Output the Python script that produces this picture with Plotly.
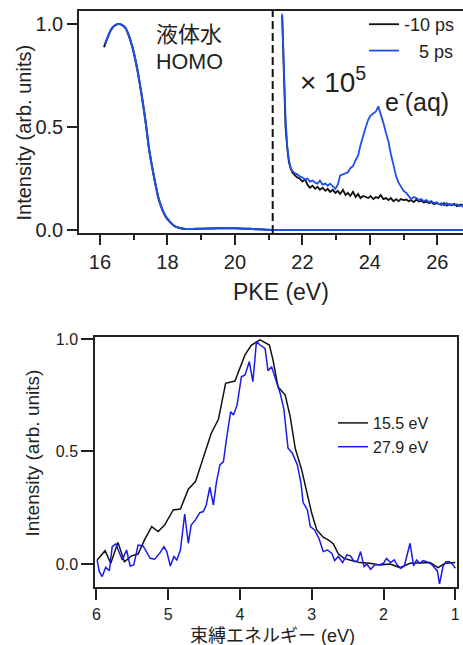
import plotly.graph_objects as go

# ---------------- top panel data ----------------
homo_pke_m10 = [16.12, 16.32, 16.42, 16.54, 16.66, 16.76, 16.96, 17.11, 17.26, 17.36, 17.45,
                17.60, 17.75, 17.95, 18.20, 18.54, 19.00, 19.50, 20.00, 20.60, 21.10, 22.00, 24.00, 26.80]
homo_int_m10 = [0.887, 0.97, 0.99, 1.0, 0.995, 0.98, 0.89, 0.777, 0.63, 0.518, 0.40,
                0.26, 0.146, 0.065, 0.02, 0.005, 0.006, 0.008, 0.009, 0.004, 0.0, 0.0, 0.0, 0.0]
homo_pke_5 = [16.14, 16.32, 16.42, 16.54, 16.66, 16.76, 16.96, 17.11, 17.26, 17.36, 17.45,
              17.60, 17.75, 17.95, 18.20, 18.54, 19.00, 19.50, 20.00, 20.60, 21.10, 22.00, 24.00, 26.80]
homo_int_5 = [0.90, 0.97, 0.99, 1.0, 0.995, 0.98, 0.89, 0.777, 0.63, 0.518, 0.40,
              0.26, 0.146, 0.065, 0.02, 0.005, 0.006, 0.008, 0.009, 0.004, 0.0, 0.0, 0.0, 0.0]

pke_x1e5 = [21.40, 21.45, 21.50, 21.55, 21.60, 21.65, 21.70, 21.78, 21.85, 21.92, 22.00, 22.08,
            22.15, 22.22, 22.30, 22.38, 22.45, 22.52, 22.60, 22.68, 22.75, 22.82, 22.90, 22.98,
            23.05, 23.12, 23.20, 23.28, 23.35, 23.42, 23.50, 23.58, 23.65, 23.72, 23.80, 23.88,
            23.95, 24.02, 24.10, 24.18, 24.25, 24.32, 24.40, 24.48, 24.55, 24.62, 24.70, 24.78,
            24.85, 24.92, 25.00, 25.08, 25.15, 25.22, 25.30, 25.38, 25.45, 25.52, 25.60, 25.68,
            25.75, 25.82, 25.90, 25.98, 26.05, 26.12, 26.20, 26.28, 26.35, 26.42, 26.50, 26.58,
            26.65, 26.72, 26.80]
int_m10_x1e5 = [1.04, 0.70, 0.50, 0.40, 0.33, 0.30, 0.28, 0.265, 0.255, 0.25, 0.235, 0.245,
                0.22, 0.205, 0.215, 0.20, 0.21, 0.195, 0.205, 0.19, 0.20, 0.185, 0.195, 0.18,
                0.19, 0.175, 0.195, 0.17, 0.18, 0.165, 0.185, 0.16, 0.175, 0.155, 0.165, 0.16,
                0.155, 0.165, 0.15, 0.16, 0.155, 0.17, 0.15, 0.155, 0.145, 0.155, 0.14, 0.15,
                0.14, 0.15, 0.145, 0.148, 0.14, 0.145, 0.135, 0.148, 0.138, 0.142, 0.133, 0.138,
                0.13, 0.136, 0.125, 0.13, 0.127, 0.122, 0.13, 0.118, 0.126, 0.12, 0.127, 0.116,
                0.121, 0.124, 0.112]
int_5_x1e5 = [1.05, 0.75, 0.55, 0.41, 0.34, 0.305, 0.285, 0.275, 0.27, 0.26, 0.255, 0.245,
              0.25, 0.235, 0.24, 0.23, 0.225, 0.24, 0.22, 0.225, 0.215, 0.225, 0.21, 0.20,
              0.22, 0.265, 0.27, 0.275, 0.28, 0.30, 0.31, 0.34, 0.36, 0.41, 0.46, 0.50,
              0.535, 0.555, 0.565, 0.575, 0.60, 0.565, 0.52, 0.47, 0.43, 0.37, 0.31, 0.26,
              0.23, 0.21, 0.19, 0.18, 0.165, 0.15, 0.16, 0.155, 0.145, 0.15, 0.14, 0.145,
              0.135, 0.14, 0.13, 0.135, 0.125, 0.13, 0.12, 0.13, 0.12, 0.125, 0.12, 0.125,
              0.115, 0.12, 0.105]
threshold_pke = 21.12

# ---------------- bottom panel data ----------------
be_155 = [5.99, 5.88, 5.80, 5.70, 5.61, 5.51, 5.42, 5.33, 5.23, 5.14, 5.05, 4.93, 4.83, 4.72,
          4.62, 4.51, 4.40, 4.30, 4.20, 4.07, 3.93, 3.84, 3.72, 3.59, 3.54, 3.47, 3.37, 3.30,
          3.23, 3.14, 3.07, 3.00, 2.93, 2.84, 2.77, 2.70, 2.63, 2.55, 2.47, 2.33, 2.19, 2.05,
          1.91, 1.77, 1.63, 1.49, 1.35, 1.24, 1.14, 1.00]
int_155 = [0.018, 0.059, 0.003, 0.096, 0.01, 0.036, 0.044, 0.107, 0.166, 0.144, 0.173, 0.24,
           0.244, 0.332, 0.366, 0.477, 0.581, 0.643, 0.803, 0.813, 0.929, 0.973, 0.996, 0.973,
           0.907, 0.788, 0.751, 0.655, 0.514, 0.418, 0.314, 0.225, 0.151, 0.119, 0.107, 0.09,
           0.045, 0.025, 0.018, 0.006, 0.003, -0.004, 0.0, -0.016, 0.003, 0.003, 0.006, -0.016,
           0.003, 0.006]
be_279 = [5.99, 5.96, 5.92, 5.87, 5.82, 5.78, 5.73, 5.68, 5.64, 5.58, 5.53, 5.48, 5.42, 5.35,
          5.30, 5.25, 5.19, 5.12, 5.06, 5.02, 4.97, 4.92, 4.88, 4.83, 4.77, 4.72, 4.68, 4.62,
          4.56, 4.51, 4.47, 4.42, 4.37, 4.33, 4.28, 4.23, 4.19, 4.13, 4.09, 4.04, 3.98, 3.93,
          3.87, 3.82, 3.77, 3.72, 3.65, 3.61, 3.56, 3.50, 3.44, 3.39, 3.33, 3.27, 3.20, 3.15,
          3.12, 3.06, 3.02, 2.96, 2.90, 2.84, 2.78, 2.72, 2.68, 2.63, 2.57, 2.51, 2.46, 2.41,
          2.36, 2.32, 2.27, 2.23, 2.18, 2.12, 2.06, 2.00, 1.96, 1.90, 1.85, 1.81, 1.76, 1.71,
          1.67, 1.63, 1.58, 1.54, 1.49, 1.45, 1.40, 1.35, 1.31, 1.25, 1.22, 1.17, 1.13, 1.08,
          1.03, 1.00]
int_279 = [0.018, -0.034, -0.056, -0.015, -0.03, 0.077, 0.089, 0.047, 0.018, 0.062, -0.009,
           -0.004, 0.084, 0.08, 0.055, 0.025, 0.021, 0.047, 0.077, 0.055, -0.009, 0.033, 0.018,
           0.062, 0.222, 0.092, 0.173, 0.196, 0.228, 0.233, 0.262, 0.341, 0.262, 0.359, 0.44,
           0.455, 0.551, 0.677, 0.662, 0.707, 0.832, 0.84, 0.899, 0.81, 0.988, 0.973, 0.958,
           0.859, 0.877, 0.818, 0.759, 0.692, 0.514, 0.492, 0.44, 0.359, 0.273, 0.24, 0.166,
           0.151, 0.114, 0.055, 0.062, 0.047, 0.015, 0.033, 0.006, 0.04, 0.036, 0.01, 0.015,
           0.055, -0.012, 0.0, -0.024, -0.004, -0.004, 0.003, 0.025, 0.006, 0.018, -0.004,
           -0.019, -0.009, 0.04, 0.092, -0.009, 0.018, 0.003, 0.015, 0.01, 0.003, -0.009,
           -0.031, -0.089, -0.009, 0.01, 0.01, -0.004, -0.019]

top_y_ticks = [0, 0.5, 1.0]
top_x_ticks = [16, 18, 20, 22, 24, 26]
bot_x_ticks = [6, 5, 4, 3, 2, 1]

W, H = 463, 645
BLACK = "#111111"
BLUE_TOP = "#1f50e8"
BLUE_BOT = "#1a1ae8"
AX = "#222222"
LAT = "Liberation Sans, Arial, Noto Sans CJK JP, sans-serif"

def px(x):
    return x / W

def py(y):
    return 1 - y / H

fig = go.Figure()

# top panel
fig.add_trace(go.Scatter(x=homo_pke_m10, y=homo_int_m10, mode="lines", line=dict(color=BLACK, width=2, shape="spline", smoothing=0.6),
                         xaxis="x", yaxis="y", showlegend=False, hoverinfo="skip"))
fig.add_trace(go.Scatter(x=homo_pke_5, y=homo_int_5, mode="lines", line=dict(color=BLUE_TOP, width=2, shape="spline", smoothing=0.6),
                         xaxis="x", yaxis="y", showlegend=False, hoverinfo="skip"))
fig.add_trace(go.Scatter(x=pke_x1e5, y=int_m10_x1e5, mode="lines", name="-10 ps", line=dict(color=BLACK, width=1.8),
                         xaxis="x", yaxis="y", legend="legend"))
fig.add_trace(go.Scatter(x=pke_x1e5, y=int_5_x1e5, mode="lines", name="\u00a0\u00a0\u00a05 ps", line=dict(color=BLUE_TOP, width=1.8),
                         xaxis="x", yaxis="y", legend="legend"))

# bottom panel
fig.add_trace(go.Scatter(x=be_155, y=int_155, mode="lines", name="15.5 eV", line=dict(color=BLACK, width=1.5),
                         xaxis="x2", yaxis="y2", legend="legend2"))
fig.add_trace(go.Scatter(x=be_279, y=int_279, mode="lines", name="27.9 eV", line=dict(color=BLUE_BOT, width=1.5),
                         xaxis="x2", yaxis="y2", legend="legend2"))

fig.add_shape(type="line", xref="x", yref="y domain", x0=threshold_pke, x1=threshold_pke, y0=0, y1=1,
              line=dict(color=BLACK, width=2, dash="8px,4px"))

axis_common = dict(showline=True, linecolor=AX, linewidth=1.5, showgrid=False, zeroline=False,
                   ticks="outside", tickcolor=AX, tickwidth=1.5, automargin=False)

fig.update_layout(
    width=W, height=H, margin=dict(l=0, r=0, t=0, b=0, autoexpand=False),
    paper_bgcolor="white", plot_bgcolor="white",
    font=dict(family=LAT, color=AX),
    xaxis=dict(domain=[px(79), 1.0], range=[15.38, 26.76], anchor="y", tickvals=top_x_ticks,
               ticklen=10, tickfont=dict(size=20), mirror=True,
               minor=dict(ticks="outside", dtick=1, tick0=16, ticklen=5, tickcolor=AX, tickwidth=1.5),
               **axis_common),
    yaxis=dict(domain=[py(233), py(11)], range=[-0.0146, 1.063], anchor="x", tickvals=top_y_ticks,
               tickformat=".1f", ticklen=10, tickfont=dict(size=20), **axis_common),
    xaxis2=dict(domain=[px(95), px(456.7)], range=[6.02, 0.98], anchor="y2", tickvals=bot_x_ticks,
                ticklen=12, tickfont=dict(size=16), mirror=True, **axis_common),
    yaxis2=dict(domain=[py(586.7), py(336.7)], range=[-0.101, 1.01], anchor="x2", tickvals=top_y_ticks,
                tickformat=".1f", ticklen=12, tickfont=dict(size=16), mirror=True, **axis_common),
    legend=dict(x=px(364), y=py(6), xanchor="left", yanchor="top", bgcolor="rgba(0,0,0,0)",
                font=dict(size=18, color=AX), tracegroupgap=0, itemwidth=30),
    legend2=dict(x=px(333), y=py(406), xanchor="left", yanchor="top", bgcolor="rgba(0,0,0,0)",
                 font=dict(size=16, color=AX), tracegroupgap=0, itemwidth=30),
    showlegend=True,
)

ann = [
    dict(text="PKE (eV)", x=px(281), y=py(292), font=dict(size=23)),
    dict(text="Intensity (arb. units)", x=px(23), y=py(132.5), textangle=-90, font=dict(size=20)),
    dict(text="Intensity (arb. units)", x=px(32), y=py(453.5), textangle=-90, font=dict(size=19)),
    dict(text="束縛エネルギー (eV)", x=px(272.5), y=py(636), font=dict(size=18)),
    dict(text="液体水", x=px(154), y=py(35), xanchor="left", font=dict(size=22)),
    dict(text="HOMO", x=px(154), y=py(62), xanchor="left", font=dict(size=21.5)),
    dict(text="× 10<sup>5</sup>", x=px(298), y=py(80), xanchor="left", font=dict(size=28)),
    dict(text="e<sup>-</sup>(aq)", x=px(383), y=py(100), xanchor="left", font=dict(size=25)),
]
for a in ann:
    a.setdefault("xanchor", "center")
    fig.add_annotation(xref="paper", yref="paper", yanchor="middle", showarrow=False,
                       font_color=AX, font_family=LAT, **{k: v for k, v in a.items()})

fig.write_html("out.html", config={"displayModeBar": False},
               post_script="document.body.style.margin='0';document.body.style.overflow='hidden';")
